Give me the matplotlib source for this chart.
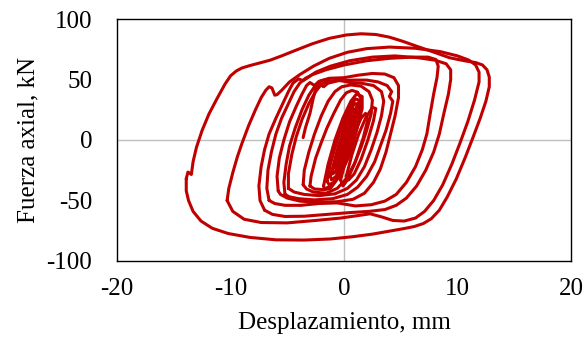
import matplotlib.pyplot as plt

plt.rcParams['font.family'] = ['Liberation Serif', 'DejaVu Serif']
plt.rcParams['axes.unicode_minus'] = False

# ciclos de histeresis (desplazamiento mm, fuerza kN), del mayor al menor
lazo_1 = [(-13.9, -32), (-13.75, -26.5), (-13.45, -28.5), (-13.3, -18), (-13.0, -6), (-12.5, 8),
          (-11.9, 21.5), (-11.2, 34), (-10.5, 46), (-10.0, 53), (-9.5, 57), (-9.0, 59.5),
          (-8.3, 61.5), (-7.5, 63.5), (-6.5, 66), (-5.5, 69.5), (-4.3, 74), (-2.8, 79.5),
          (-1.3, 84), (0.2, 86.8), (1.5, 87.8), (2.8, 87.2), (4.0, 85), (5.2, 81.5), (6.4, 77.5),
          (7.8, 73), (9.3, 68), (10.6, 65.5), (11.6, 64), (12.2, 62), (12.6, 58), (12.8, 52),
          (12.8, 44), (12.5, 32), (12.0, 18), (11.4, 3), (10.7, -14), (9.9, -32), (9.1, -47),
          (8.4, -58), (7.7, -65), (7.0, -69), (6.2, -71.5), (5.4, -73), (4.2, -75), (2.5, -77.8),
          (0.7, -80), (-1.2, -81.8), (-3.5, -82.7), (-6.0, -82.5), (-8.3, -80.5), (-10.2, -77.3),
          (-11.6, -73), (-12.6, -67), (-13.3, -59), (-13.7, -50), (-13.9, -42), (-13.9, -32)]
lazo_2 = [(-10.3, -50), (-10.15, -40), (-9.8, -27), (-9.4, -14), (-9.0, -3), (-8.4, 12),
          (-7.8, 25), (-7.3, 35), (-6.9, 41), (-6.6, 44), (-6.35, 43), (-6.1, 37), (-5.9, 37.5),
          (-5.5, 41), (-4.8, 48), (-3.9, 54), (-2.7, 61), (-1.3, 67.5), (0.3, 72.5), (2.0, 75.5),
          (4.0, 76.8), (6.3, 75.8), (8.5, 73), (10.0, 69.5), (11.0, 66), (11.6, 62), (11.9, 56),
          (11.9, 48), (11.5, 33), (10.9, 15), (10.2, -3), (9.5, -20), (8.7, -37), (7.9, -50),
          (7.1, -59), (6.3, -64.5), (5.3, -67), (4.3, -66.5), (3.3, -63.5), (2.3, -61),
          (1.2, -62.5), (-0.3, -64.5), (-2.5, -66.5), (-5.0, -68.5), (-7.3, -68.2), (-8.8, -65.5),
          (-9.8, -59), (-10.3, -50)]
lazo_3 = [(-7.0, -58), (-7.4, -50), (-7.5, -38), (-7.3, -22), (-7.0, -8), (-6.6, 5), (-6.0, 18),
          (-5.4, 30), (-4.9, 40), (-4.5, 47), (-4.0, 50.5), (-3.6, 49), (-3.2, 51.5), (-2.5, 56),
          (-1.2, 61), (0.5, 65.5), (2.5, 68.5), (4.5, 69.5), (6.5, 68), (8.0, 66), (9.0, 63),
          (9.4, 58), (9.4, 50), (9.2, 38), (8.8, 22), (8.4, 5), (7.9, -10), (7.2, -25), (6.4, -38),
          (5.5, -48), (4.6, -54), (3.6, -57.5), (2.2, -59), (0.5, -60), (-1.5, -61.5),
          (-3.5, -63), (-5.2, -63.2), (-6.3, -61.5), (-7.0, -58)]
lazo_4 = [(-6.6, -50), (-6.8, -40), (-6.7, -25), (-6.4, -10), (-6.0, 5), (-5.5, 18), (-4.9, 30),
          (-4.4, 40), (-3.9, 47), (-3.4, 51), (-2.8, 54), (-1.6, 58), (0.0, 62), (2.0, 65.5),
          (4.0, 67.5), (6.0, 68.5), (7.4, 68.5), (8.1, 66.5), (8.3, 61), (8.2, 52), (7.9, 38),
          (7.6, 22), (7.3, 5), (6.9, -8), (6.3, -22), (5.5, -35), (4.6, -45), (3.6, -50.5),
          (2.4, -53.5), (1.0, -54.5), (-0.6, -52), (-2.2, -52.5), (-3.8, -54), (-5.2, -54),
          (-6.1, -52.5), (-6.6, -50)]
lazo_5 = [(-5.8, -42), (-5.9, -30), (-5.7, -15), (-5.3, 0), (-4.8, 15), (-4.2, 28), (-3.7, 38),
          (-3.3, 45), (-3.0, 47.5), (-2.6, 45), (-2.2, 48.5), (-1.3, 51), (0.0, 51.5), (1.2, 53.5),
          (2.5, 55), (3.6, 54.5), (4.4, 51.5), (4.8, 45), (4.8, 35), (4.5, 20), (4.1, 5),
          (3.7, -10), (3.2, -24), (2.6, -35), (1.8, -44), (0.8, -49), (-0.6, -51), (-2.3, -51.5),
          (-3.9, -50.5), (-5.0, -48), (-5.6, -45), (-5.8, -42)]
lazo_6 = [(-5.2, -45), (-5.3, -35), (-5.1, -20), (-4.8, -5), (-4.3, 10), (-3.7, 25), (-3.1, 37),
          (-2.6, 44), (-2.2, 46.5), (-1.8, 44), (-1.4, 47), (-0.5, 49), (0.8, 49.5), (2.0, 49.5),
          (3.0, 48), (3.8, 45), (4.2, 40), (4.0, 36), (4.3, 32), (4.1, 22), (3.7, 8), (3.2, -5),
          (2.7, -18), (2.0, -30), (1.2, -39), (0.3, -45), (-1.0, -48.5), (-2.6, -49.5),
          (-4.0, -48.5), (-4.8, -47), (-5.2, -45)]
lazo_7 = [(-4.9, -40), (-4.9, -28), (-4.6, -12), (-4.2, 3), (-3.7, 17), (-3.1, 30), (-2.5, 40),
          (-2.0, 46), (-1.5, 48.5), (-0.5, 49.5), (0.5, 47.5), (1.5, 47), (2.6, 45), (3.3, 40),
          (3.5, 32), (3.3, 20), (2.9, 6), (2.4, -8), (1.8, -22), (1.1, -33), (0.3, -40),
          (-0.8, -44.5), (-2.2, -46), (-3.5, -45), (-4.4, -43), (-4.9, -40)]
lazo_8 = [(-3.6, -37), (-3.5, -25), (-3.1, -10), (-2.6, 5), (-2.0, 20), (-1.4, 32), (-0.8, 40),
          (-0.2, 44), (0.6, 45.5), (1.5, 44.5), (2.2, 40), (2.5, 33), (2.4, 22), (2.0, 8),
          (1.5, -6), (0.9, -20), (0.2, -32), (-0.6, -40), (-1.6, -44), (-2.7, -43), (-3.3, -40.5),
          (-3.6, -37)]
lazo_9 = [(-3.0, -38), (-2.9, -30), (-2.5, -15), (-2.0, -2), (-1.5, 10), (-0.9, 22), (-0.3, 33),
          (0.2, 39), (0.7, 41), (1.2, 39.5), (1.5, 34), (1.5, 25), (1.2, 12), (0.8, -2),
          (0.3, -16), (-0.3, -28), (-1.0, -37), (-1.8, -41), (-2.6, -40.5), (-3.0, -38)]
lazo_10 = [(-1.8, -38), (-1.4, -20), (-0.8, 0), (-0.1, 18), (0.6, 32), (1.1, 38), (1.6, 36),
           (1.6, 26), (1.1, 8), (0.5, -12), (-0.4, -30), (-1.2, -40), (-1.7, -41), (-1.8, -38)]
lazo_11 = [(-1.5, -34), (-1.2, -20), (-0.6, 0), (0.0, 15), (0.6, 28), (1.0, 34), (1.3, 33),
           (1.3, 25), (0.9, 10), (0.4, -8), (-0.3, -25), (-0.9, -35), (-1.3, -37), (-1.5, -34)]
lazo_12 = [(-1.2, -30), (-0.5, -5), (0.3, 18), (0.9, 30), (1.15, 30), (0.9, 15), (0.2, -10),
           (-0.7, -30), (-1.1, -33), (-1.2, -30)]
lazo_13 = [(-1.0, -26), (-0.4, -5), (0.3, 15), (0.8, 26), (1.0, 25), (0.6, 12), (-0.1, -8),
           (-0.7, -26), (-1.0, -28), (-1.0, -26)]
lazo_14 = [(-0.7, -22), (-0.2, -5), (0.3, 10), (0.7, 20), (0.85, 19), (0.5, 6), (0.0, -10),
           (-0.5, -22), (-0.7, -24), (-0.7, -22)]
lazo_15 = [(-0.3, -33), (0.2, -15), (0.9, 5), (1.5, 18), (1.9, 22), (2.1, 17), (1.7, 2),
           (1.0, -18), (0.3, -33), (-0.1, -38), (-0.3, -33)]
lazo_16 = [(0.2, -30), (0.7, -12), (1.3, 5), (1.9, 18), (2.5, 27), (2.8, 26), (2.6, 16),
           (2.1, 0), (1.5, -16), (0.9, -28), (0.4, -33), (0.2, -30)]
# tramo abierto que sube desde el eje hasta la parte superior
tramo = [(-3.6, 2), (-3.4, 10), (-3.0, 22), (-2.7, 35), (-2.4, 45), (-2.0, 49), (-1.3, 50.5)]

lazos = [lazo_1, lazo_2, lazo_3, lazo_4, lazo_5, lazo_6, lazo_7, lazo_8,
         lazo_9, lazo_10, lazo_11, lazo_12, lazo_13, lazo_14, lazo_15, lazo_16, tramo]

xticks = [-20, -10, 0, 10, 20]
yticks = [-100, -50, 0, 50, 100]

fig = plt.figure(figsize=(5.86, 3.43), dpi=100)
ax = fig.add_axes([0.1997, 0.2391, 0.7747, 0.7055])

ax.axhline(0, color='#BFBFBF', lw=1.0, zorder=1)
ax.axvline(0, color='#BFBFBF', lw=1.0, zorder=1)

for lazo in lazos:
    xs = [p[0] for p in lazo]
    ys = [p[1] for p in lazo]
    ax.plot(xs, ys, color='#C00000', lw=2.2, solid_joinstyle='round',
            solid_capstyle='round', zorder=2)

ax.set_xlim(-20, 20)
ax.set_ylim(-100, 100)
ax.set_xticks(xticks)
ax.set_yticks(yticks)
ax.tick_params(length=0, labelsize=18, colors='black')
ax.tick_params(axis='y', pad=18)
ax.tick_params(axis='x', pad=12)
for s in ax.spines.values():
    s.set_linewidth(1.0)
    s.set_color('black')

ax.set_xlabel('Desplazamiento, mm', fontsize=18, labelpad=9)
ax.set_ylabel('Fuerza axial, kN', fontsize=18, labelpad=5)

fig.savefig('out.png', dpi=100)
